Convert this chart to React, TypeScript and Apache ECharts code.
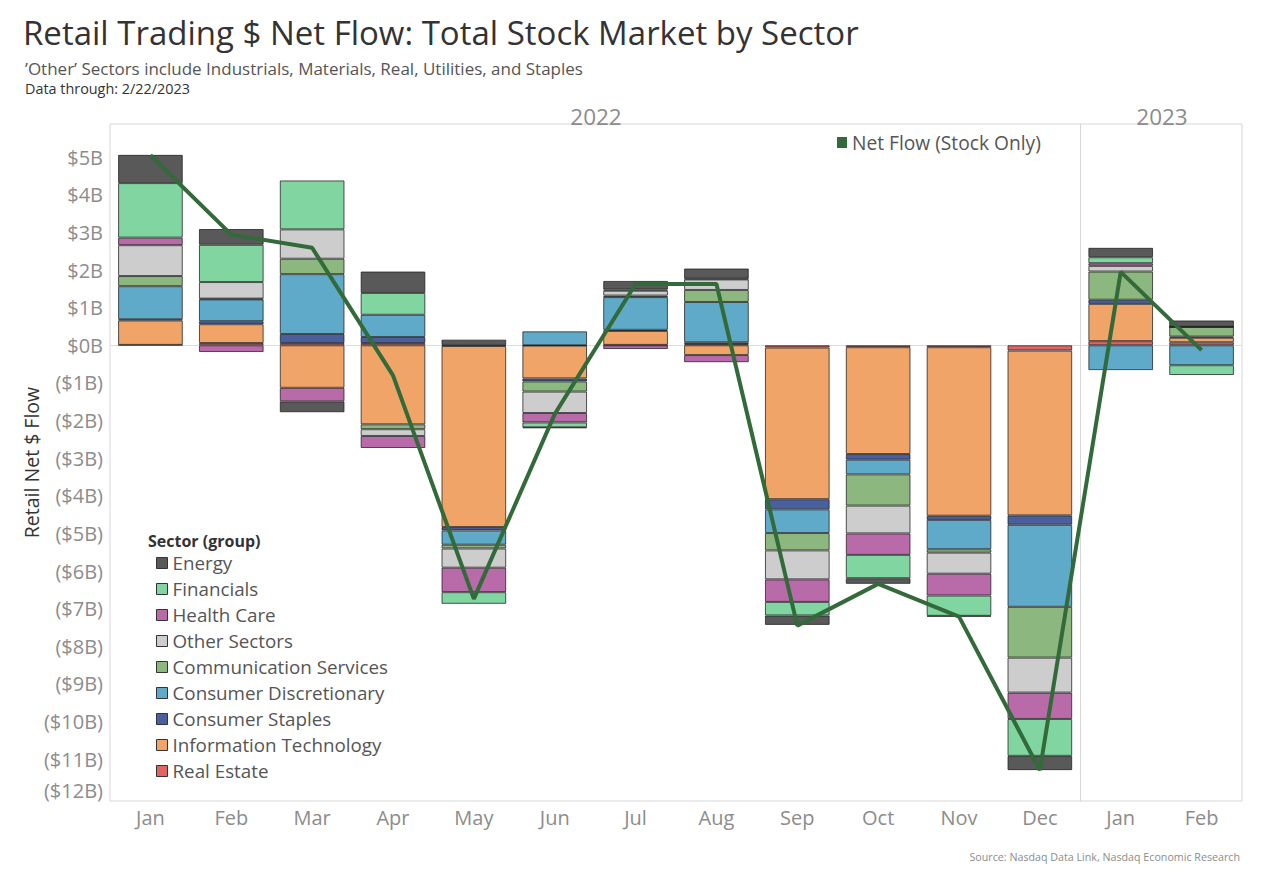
import React, { useEffect, useRef } from "react";
import * as echarts from "echarts";

// ---- Data ----
const months = ["Jan", "Feb", "Mar", "Apr", "May", "Jun", "Jul", "Aug", "Sep", "Oct", "Nov", "Dec", "Jan", "Feb"];
const years = ["2022", "2022", "2022", "2022", "2022", "2022", "2022", "2022", "2022", "2022", "2022", "2022", "2023", "2023"];
const yearHeaders = ["2022", "2023"];

const sectors = [
  "Energy",
  "Financials",
  "Health Care",
  "Other Sectors",
  "Communication Services",
  "Consumer Discretionary",
  "Consumer Staples",
  "Information Technology",
  "Real Estate",
];
const sectorColors = ["#595959", "#80d5a0", "#b86ba8", "#cdcdcd", "#8cb87f", "#5faac8", "#4a5f9e", "#f0a468", "#e06464"];

// values in $B, Jan 2022 ... Feb 2023
const energy = [0.75, 0.42, -0.29, 0.57, 0.15, -0.02, 0.23, 0.27, -0.25, -0.15, -0.02, -0.38, 0.25, 0.17];
const financials = [1.45, 0.99, 1.30, 0.58, -0.31, -0.13, 0.03, 0.02, -0.36, -0.62, -0.54, -0.98, 0.16, -0.26];
const healthCare = [0.20, -0.18, -0.36, -0.32, -0.65, -0.25, -0.10, -0.19, -0.60, -0.57, -0.58, -0.70, 0.07, 0.0];
const otherSectors = [0.82, 0.44, 0.78, -0.18, -0.51, -0.57, 0.13, 0.28, -0.77, -0.74, -0.56, -0.93, 0.15, 0.0];
const commServices = [0.27, 0.02, 0.41, -0.13, -0.10, -0.27, 0.04, 0.32, -0.46, -0.83, -0.09, -1.35, 0.75, 0.26];
const consDiscretionary = [0.88, 0.58, 1.59, 0.59, -0.38, 0.37, 0.87, 1.07, -0.63, -0.39, -0.78, -2.18, -0.66, -0.53];
const consStaples = [0.03, 0.08, 0.24, 0.16, -0.09, -0.08, 0.03, 0.05, -0.27, -0.15, -0.11, -0.25, 0.11, 0.03];
const infoTech = [0.65, 0.50, -1.13, -2.10, -4.81, -0.87, 0.37, -0.26, -4.03, -2.84, -4.48, -4.38, 0.99, 0.12];
const realEstate = [0.01, 0.06, 0.06, 0.06, -0.02, -0.01, 0.01, 0.03, -0.06, -0.05, -0.05, -0.14, 0.11, 0.08];

const sectorValues = [energy, financials, healthCare, otherSectors, commServices, consDiscretionary, consStaples, infoTech, realEstate];

const netFlowName = "Net Flow (Stock Only)";
const netFlow = [5.05, 2.94, 2.59, -0.80, -6.74, -1.83, 1.63, 1.63, -7.45, -6.34, -7.21, -11.29, 1.95, -0.13];

const yTicks = [5, 4, 3, 2, 1, 0, -1, -2, -3, -4, -5, -6, -7, -8, -9, -10, -11, -12];
const yMin = -12.11;
const yMax = 5.88;

const FONT = "'Open Sans', 'Noto Sans', sans-serif";

function fmtB(v: number): string {
  const r = Math.round(v);
  return r < 0 ? `($${Math.abs(r)}B)` : `$${r}B`;
}

export default function App() {
  const ref = useRef<HTMLDivElement>(null);

  useEffect(() => {
    if (!ref.current) return;
    const chart = echarts.init(ref.current, undefined, { renderer: "svg" });
    const categories = months.map((m, i) => `${m} ${years[i]}`);

    // stack order from zero outward: Real Estate first ... Energy last
    const barSeries = sectors
      .map((name, i) => ({
        name,
        type: "bar",
        stack: "total",
        barCategoryGap: "20%",
        data: sectorValues[i],
        itemStyle: {
          color: sectorColors[i],
          borderColor: "rgba(30,30,30,0.75)",
          borderWidth: 1,
        },
        emphasis: { disabled: true },
      }))
      .reverse();

    const option: any = {
      animation: false,
      textStyle: { fontFamily: FONT },
      title: [
        {
          text: "Retail Trading $ Net Flow: Total Stock Market by Sector",
          left: 18,
          top: 11,
          textStyle: { fontSize: 33, fontWeight: "normal", color: "#333333", fontFamily: FONT },
        },
        {
          text: "’Other’ Sectors include Industrials, Materials, Real, Utilities, and Staples",
          left: 20,
          top: 55,
          textStyle: { fontSize: 17, fontWeight: "normal", color: "#555555", fontFamily: FONT },
        },
        {
          text: "Data through: 2/22/2023",
          left: 20,
          top: 76,
          textStyle: { fontSize: 14.4, fontWeight: "normal", color: "#333333", fontFamily: FONT },
        },
      ],
      grid: {
        left: 110,
        right: 36,
        top: 124,
        bottom: 93,
        show: true,
        borderColor: "#d6d6d6",
        borderWidth: 1,
        backgroundColor: "transparent",
      },
      legend: [
        {
          data: sectors,
          orient: "vertical",
          left: 151,
          top: 548,
          icon: "rect",
          itemWidth: 11,
          itemHeight: 11,
          itemGap: 6,
          selectedMode: false,
          itemStyle: { borderColor: "#333", borderWidth: 1 },
          textStyle: { fontSize: 18.8, color: "#555555", lineHeight: 20, fontFamily: FONT },
        },
        {
          data: [netFlowName],
          left: 832,
          top: 128,
          icon: "rect",
          itemWidth: 10,
          itemHeight: 11,
          itemGap: 6,
          selectedMode: false,
          textStyle: { fontSize: 19.2, color: "#555555", fontFamily: FONT },
        },
      ],
      xAxis: {
        type: "category",
        data: categories,
        axisLine: { show: false },
        axisTick: { show: false },
        axisLabel: {
          formatter: (_v: string, i: number) => months[i],
          color: "#8c8c8c",
          fontSize: 20,
          margin: 6,
          fontFamily: FONT,
        },
        splitLine: { show: false },
      },
      yAxis: {
        type: "value",
        min: yMin,
        max: yMax,
        name: "Retail Net $ Flow",
        nameLocation: "middle",
        nameRotate: 90,
        nameGap: 69,
        nameMoveOverlap: false,
        nameTextStyle: { fontSize: 19.5, color: "#333333", fontFamily: FONT },
        axisLine: { show: false },
        axisTick: { show: false },
        splitLine: { show: false },
        axisLabel: {
          customValues: yTicks,
          color: "#8c8c8c",
          fontSize: 20,
          margin: 7,
          fontFamily: FONT,
          formatter: (v: number) => (Math.round(v) === -12 ? `{s|${fmtB(v)}}` : fmtB(v)),
          rich: { s: { fontSize: 20, color: "#8c8c8c", padding: [0, 0, 13, 0], fontFamily: FONT } },
        },
      },
      series: [
        ...barSeries,
        {
          name: netFlowName,
          type: "line",
          data: netFlow,
          symbol: "none",
          z: 10,
          itemStyle: { color: "#336a3a" },
          lineStyle: { color: "#336a3a", width: 4 },
          emphasis: { disabled: true },
          markLine: {
            silent: true,
            symbol: "none",
            label: { show: false },
            lineStyle: { color: "#dcdcdc", width: 1, type: "solid" },
            data: [{ yAxis: 0 }],
            z: 1,
          },
        },
      ],
      graphic: [
        {
          id: "y2022",
          type: "text",
          x: 596,
          y: 116,
          style: { text: yearHeaders[0], fontSize: 22.5, fill: "#8c8c8c", align: "center", verticalAlign: "middle", fontFamily: FONT },
        },
        {
          id: "y2023",
          type: "text",
          x: 1162,
          y: 116,
          style: { text: yearHeaders[1], fontSize: 22.5, fill: "#8c8c8c", align: "center", verticalAlign: "middle", fontFamily: FONT },
        },
        {
          id: "legendTitle",
          type: "text",
          x: 148,
          y: 541,
          style: { text: "Sector (group)", fontSize: 16, fontWeight: "bold", fill: "#333333", verticalAlign: "middle", fontFamily: FONT },
        },
        {
          id: "source",
          type: "text",
          x: 1240,
          y: 857,
          style: {
            text: "Source: Nasdaq Data Link, Nasdaq Economic Research",
            fontSize: 10.7,
            fill: "#8c8c8c",
            align: "right",
            verticalAlign: "middle",
            fontFamily: FONT,
          },
        },
      ],
    };

    chart.setOption(option);

    // year divider between Dec 2022 and Jan 2023, placed through the axis scales
    const xDec = chart.convertToPixel({ xAxisIndex: 0 }, categories[11]) as number;
    const xJan = chart.convertToPixel({ xAxisIndex: 0 }, categories[12]) as number;
    const yTop = chart.convertToPixel({ yAxisIndex: 0 }, yMax) as number;
    const yBottom = chart.convertToPixel({ yAxisIndex: 0 }, yMin) as number;
    const xDiv = Math.round((xDec + xJan) / 2) + 0.5;
    chart.setOption({
      graphic: [
        {
          id: "divider",
          type: "line",
          shape: { x1: xDiv, y1: yTop, x2: xDiv, y2: yBottom },
          style: { stroke: "#d6d6d6", lineWidth: 1 },
          z: 0,
          silent: true,
        },
      ],
    });

    return () => chart.dispose();
  }, []);

  return <div ref={ref} style={{ position: "fixed", left: 0, top: 0, width: 1278, height: 894, background: "#fff" }} />;
}
